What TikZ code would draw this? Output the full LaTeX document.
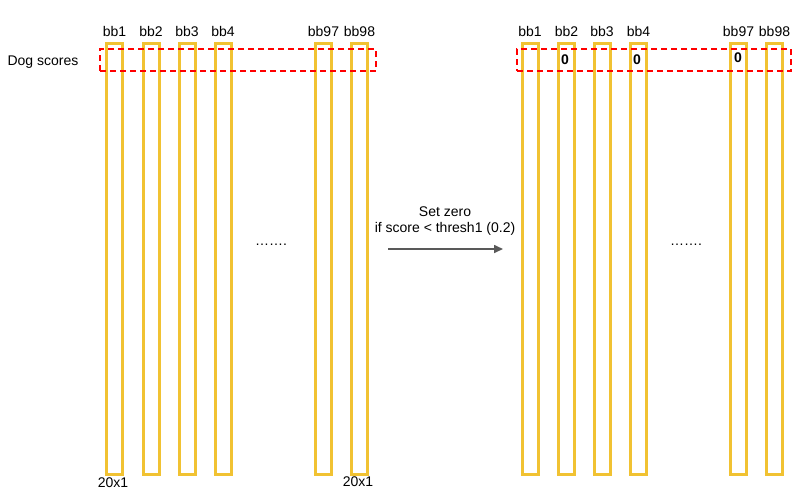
\documentclass[tikz,border=0pt]{standalone}
\usepackage{fontspec}
\setmainfont{Liberation Sans}
\usepackage{xcolor}
\usetikzlibrary{arrows.meta}
\definecolor{baryellow}{RGB}{241,194,50}
\definecolor{boxred}{RGB}{255,0,0}
\definecolor{arrowgray}{RGB}{89,89,89}

\begin{document}
\begin{tikzpicture}[x=1pt, y=-1pt,
  bar/.style={rectangle, draw=baryellow, line width=3pt, minimum width=16pt, minimum height=431pt, inner sep=0pt},
  scorebox/.style={rectangle, draw=boxred, line width=1.6pt, dash pattern=on 6pt off 4pt, minimum height=22pt, inner sep=0pt},
  lab/.style={font=\fontsize{14}{16}\selectfont, inner sep=1pt},
  zero/.style={font=\fontsize{14}{16}\selectfont\bfseries, inner sep=1pt},
  arrow/.style={-{Triangle[length=9pt, width=8pt]}, line width=1.6pt, draw=arrowgray}
]
\useasboundingbox (0,0) rectangle (795,496);

% left: raw scores
\foreach \x/\n/\t in {114.5/l1/bb1, 151/l2/bb2, 187/l3/bb3, 223/l4/bb4, 323.5/l97/bb97, 359.5/l98/bb98}{
  \node[bar] (\n) at (\x,259) {};
  \node[lab] (t\n) at (\x,31) {\t};
}
\node[lab] (dog) at (43,62) {Dog scores};
\node[scorebox, minimum width=276pt] (dogl) at (238,60) {};
\node[lab] (dotsl) at (271,245) {…….};
\node[lab] (dl) at (113,483) {20x1};
\node[lab] (dr) at (358,482) {20x1};

% right: thresholded scores
\foreach \x/\n/\t in {530/r1/bb1, 566.5/r2/bb2, 602/r3/bb3, 638.5/r4/bb4, 738.5/r97/bb97, 774.5/r98/bb98}{
  \node[bar] (\n) at (\x,259) {};
  \node[lab] (t\n) at (\x,31) {\t};
}
\node[scorebox, minimum width=274pt] (dogr) at (654,60) {};
\node[zero] (z2) at (565,60) {0};
\node[zero] (z4) at (637,60) {0};
\node[zero] (z97) at (738,58) {0};
\node[lab] (dotsr) at (686,245) {…….};

% step
\node[lab, align=center] (step) at (445,221) {Set zero\\if score < thresh1 (0.2)};
\coordinate (as) at (388,249);
\coordinate (ae) at (503,249);
\draw[arrow] (as) -- (ae);
\end{tikzpicture}
\end{document}
